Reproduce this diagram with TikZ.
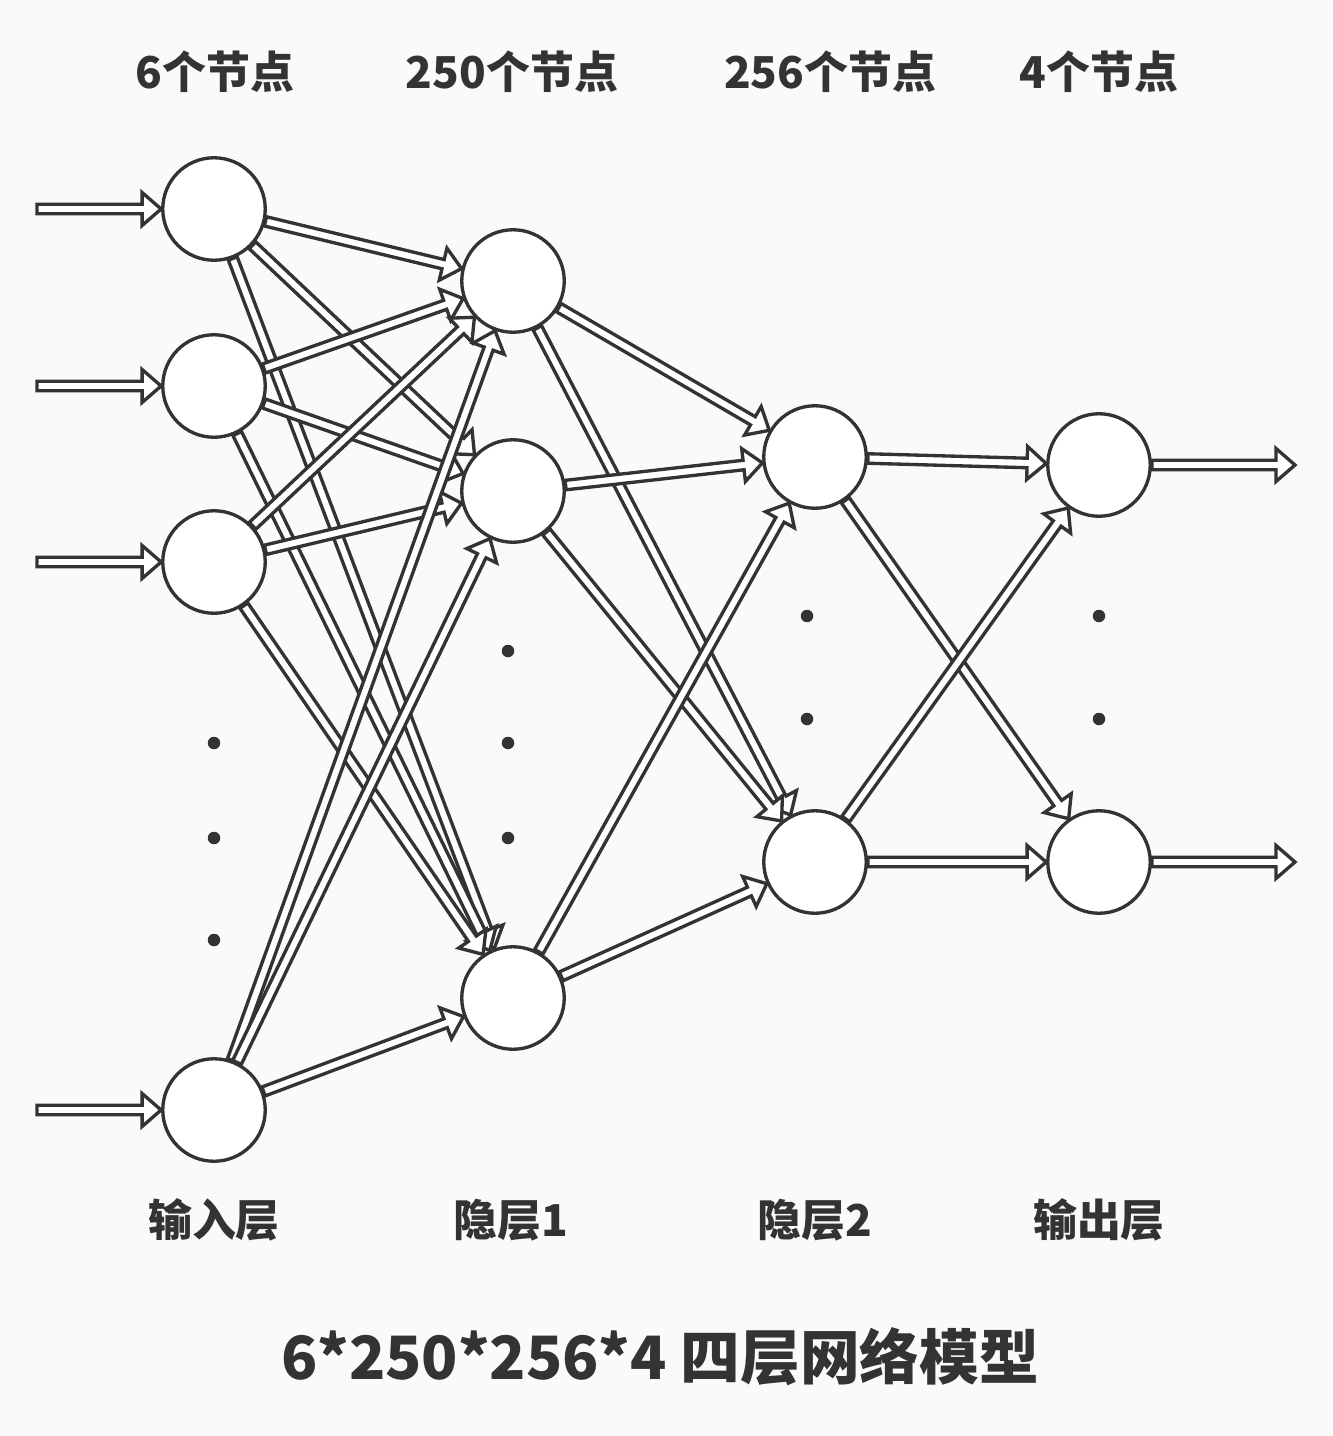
\documentclass[tikz,border=0pt]{standalone}
\usepackage{fontspec}
\usepackage{tikz}
\usetikzlibrary{calc}
\newfontfamily\cjk{Noto Sans CJK SC}
\definecolor{inkgray}{RGB}{51, 51, 51}
\definecolor{paper}{RGB}{250, 250, 250}

% hollow block arrow from node #1 to node #2
\newcommand{\shaftw}{0.095cm}
\newcommand{\headw}{0.33cm}
\newcommand{\headl}{0.38cm}
\newcommand{\blockarrow}[2]{%
  \path (#1) -- coordinate[pos=0] (ba-s) coordinate[pos=1] (ba-e) (#2);
  \coordinate (ba-m) at ($(ba-e)!\headl!(ba-s)$);
  \draw[blk] ($(ba-s)!\shaftw!90:(ba-e)$) -- ($(ba-m)!\shaftw!90:(ba-e)$)
    -- ($(ba-m)!\headw!90:(ba-e)$) -- (ba-e)
    -- ($(ba-m)!\headw!-90:(ba-e)$) -- ($(ba-m)!\shaftw!-90:(ba-e)$)
    -- ($(ba-s)!\shaftw!-90:(ba-e)$) -- cycle;}

\begin{document}
\begin{tikzpicture}[
    x=0.02cm, y=-0.02cm,
    neuron/.style={circle, draw=inkgray, fill=white, line width=1.9pt,
                   minimum size=2.05cm, inner sep=0pt},
    blk/.style={draw=inkgray, fill=white, line width=1.9pt, line join=miter},
    lbl/.style={font=\cjk\bfseries\fontsize{25}{30}\selectfont, text=inkgray},
    ttl/.style={font=\cjk\bfseries\fontsize{34}{40}\selectfont, text=inkgray},
    dot/.style={circle, fill=inkgray, inner sep=0pt, minimum size=0.25cm},
  ]
  \fill[paper] (0,0) rectangle (1332,1436);
  \useasboundingbox (0,0) rectangle (1332,1436);

  % layers
  \node[neuron] (a1) at (214, 209) {};
  \node[neuron] (a2) at (214, 386) {};
  \node[neuron] (a3) at (214, 562) {};
  \node[neuron] (a4) at (214,1110) {};

  \node[neuron] (b1) at (513, 281) {};
  \node[neuron] (b2) at (513, 491) {};
  \node[neuron] (b3) at (513, 998) {};

  \node[neuron] (c1) at (815, 457) {};
  \node[neuron] (c2) at (815, 862) {};

  \node[neuron] (d1) at (1099, 465) {};
  \node[neuron] (d2) at (1099, 862) {};

  % free ends
  \coordinate (in1) at (37, 209);
  \coordinate (in2) at (37, 386);
  \coordinate (in3) at (37, 562);
  \coordinate (in4) at (37,1110);
  \coordinate (out1) at (1295, 465);
  \coordinate (out2) at (1295, 862);

  % connections
  \foreach \i in {1,...,4} {\blockarrow{in\i}{a\i}}
  \foreach \i in {1,...,4} {
    \foreach \j in {1,...,3} {\blockarrow{a\i}{b\j}}}
  \foreach \j in {1,...,3} {
    \foreach \k in {1,2} {\blockarrow{b\j}{c\k}}}
  \foreach \k in {1,2} {
    \foreach \l in {1,2} {\blockarrow{c\k}{d\l}}}
  \blockarrow{d1}{out1}
  \blockarrow{d2}{out2}

  % dots
  \node[dot] (ad1) at (214, 743) {};
  \node[dot] (ad2) at (214, 838) {};
  \node[dot] (ad3) at (214, 940) {};
  \node[dot] (bd1) at (508, 651) {};
  \node[dot] (bd2) at (508, 743) {};
  \node[dot] (bd3) at (508, 838) {};
  \node[dot] (cd1) at (807, 616) {};
  \node[dot] (cd2) at (807, 719) {};
  \node[dot] (dd1) at (1099, 616) {};
  \node[dot] (dd2) at (1099, 719) {};

  % labels
  \node[lbl] (na) at (215, 72) {6个节点};
  \node[lbl] (nb) at (512, 72) {250个节点};
  \node[lbl] (nc) at (830, 72) {256个节点};
  \node[lbl] (nd) at (1099, 72) {4个节点};

  \node[lbl] (la) at (214, 1220) {输入层};
  \node[lbl] (lb) at (511, 1220) {隐层1};
  \node[lbl] (lc) at (815, 1220) {隐层2};
  \node[lbl] (ld) at (1099, 1220) {输出层};

  \node[ttl] (title) at (660, 1357) {6*250*256*4 四层网络模型};
\end{tikzpicture}
\end{document}
